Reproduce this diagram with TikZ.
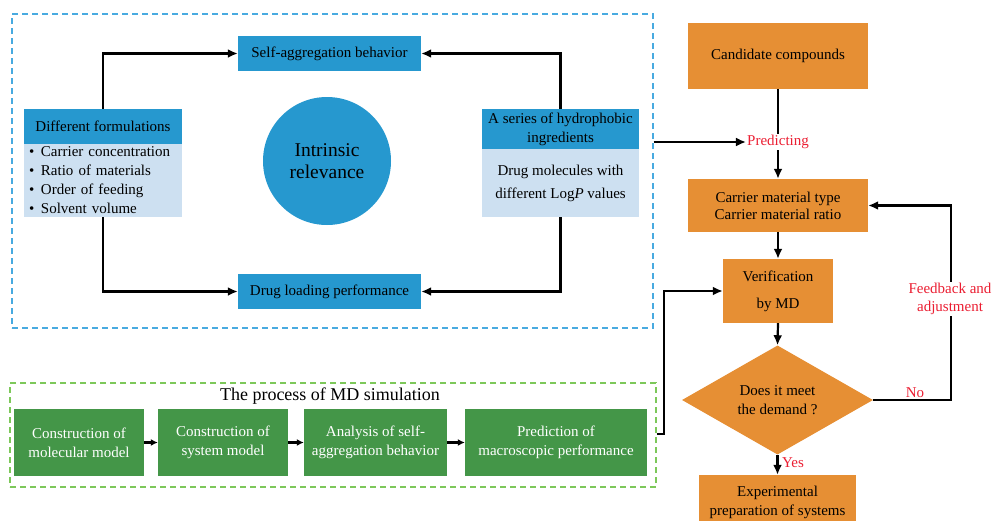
\documentclass[tikz,border=0pt]{standalone}
\usepackage{fontspec}
\setmainfont{Liberation Serif}
\usetikzlibrary{arrows.meta,shapes.geometric,calc}
\definecolor{dblue}{RGB}{38,152,207}
\definecolor{lblue}{RGB}{205,224,241}
\definecolor{orng}{RGB}{230,143,52}
\definecolor{grn}{RGB}{68,150,72}
\definecolor{dashblue}{RGB}{72,170,224}
\definecolor{dashgrn}{RGB}{125,200,90}
\definecolor{redt}{RGB}{235,30,50}
\newcommand{\fsz}{\fontsize{15}{18}\selectfont}
\begin{document}
\begin{tikzpicture}[x=1pt,y=-1pt,
  basebox/.style={draw=none, inner sep=0pt, align=center, font=\fsz},
  bluebox/.style={basebox, fill=dblue},
  lightbox/.style={basebox, fill=lblue},
  orangebox/.style={basebox, fill=orng},
  greenbox/.style={basebox, fill=grn, text=white, minimum height=67pt},
  redlabel/.style={inner sep=1pt, text=redt, font=\fsz},
  conn/.style={line width=2.2pt},
  arr/.style={conn, -{Latex[length=10pt,width=9pt]}},
  sarr/.style={line width=2.2pt, -{Latex[length=7pt,width=7pt]}},
  dashframe/.style={line width=1.2pt, dash pattern=on 6pt off 4pt}
]
\useasboundingbox (0,0) rectangle (993,520);

% blue dashed frame
\node[draw=dashblue, dashframe, minimum width=641pt, minimum height=314pt, inner sep=0pt] (bframe) at (332.5,171) {};

\node[bluebox, minimum width=183pt, minimum height=35pt] (selfagg) at (329.5,53.5) {Self-aggregation behavior};
\node[bluebox, minimum width=183pt, minimum height=35pt] (drugload) at (329.5,291.5) {Drug loading performance};

\node[bluebox, minimum width=158pt, minimum height=35pt] (dfh) at (103,126.5) {Different formulations};
\node[lightbox, minimum width=158pt, minimum height=73pt, text width=148pt, align=left, inner xsep=5pt, font=\fontsize{15}{19}\selectfont] (dfl) at (103,180.5)
  {\makebox[12pt][l]{\textbullet}Carrier concentration\\
   \makebox[12pt][l]{\textbullet}Ratio of materials\\
   \makebox[12pt][l]{\textbullet}Order of feeding\\
   \makebox[12pt][l]{\textbullet}Solvent volume};

\node[circle, fill=dblue, minimum size=128pt, inner sep=0pt, align=center, font=\fontsize{19.5}{22}\selectfont] (intr) at (327,161) {Intrinsic\\relevance};

\node[bluebox, minimum width=157pt, minimum height=40pt, font=\fontsize{15}{19}\selectfont] (hyh) at (560.5,129) {A series of hydrophobic\\ingredients};
\node[lightbox, minimum width=157pt, minimum height=68pt, font=\fontsize{15}{23}\selectfont] (hyl) at (560.5,183) {Drug molecules with\\different Log\textit{P} values};

\draw[arr] (dfh.north) |- (selfagg.west);
\draw[arr] (dfl.south) |- (drugload.west);
\draw[arr] (hyh.north) |- (selfagg.east);
\draw[arr] (hyl.south) |- (drugload.east);

% right column
\node[orangebox, minimum width=180pt, minimum height=66pt] (cand) at (778,56) {Candidate compounds};
\node[redlabel] (pred) at (778,142) {Predicting};
\node[orangebox, minimum width=180pt, minimum height=53pt, font=\fontsize{15}{17}\selectfont] (carrier) at (778,205.5) {Carrier material type\\Carrier material ratio};
\node[orangebox, minimum width=110pt, minimum height=64pt, font=\fontsize{15}{27}\selectfont] (verif) at (778,291) {Verification\\by MD};
\node[diamond, fill=orng, minimum width=191pt, minimum height=94pt, inner sep=0pt, align=center, font=\fontsize{15}{19}\selectfont] (demand) at (777.5,400) {Does it meet\\the demand ?};
\node[orangebox, minimum width=157pt, minimum height=55pt, font=\fontsize{15}{19}\selectfont] (exper) at (777.5,502.5) {Experimental\\preparation of systems};

\draw[conn] (cand.south) -- (pred.north);
\draw[arr] (pred.south) -- (carrier.north);
\draw[arr] (bframe.east |- pred.west) -- (pred.west);
\draw[arr] (carrier.south) -- (verif.north);
\draw[arr] (verif.south) -- (demand.north);
\draw[arr] (demand.south) -- (exper.north);
\node[redlabel] (yes) at (793,463) {Yes};

\coordinate (fbcorner) at (951,400);
\draw[arr] (demand.east) -- (fbcorner) |- (carrier.east);
\node[redlabel] (no) at (915,393) {No};
\node[redlabel, fill=white, align=center, font=\fontsize{15}{18}\selectfont] (fb) at (950,299) {Feedback and\\adjustment};

% green MD process
\node[draw=dashgrn, dashframe, minimum width=646pt, minimum height=104pt, inner sep=0pt] (gframe) at (333,435) {};
\node[inner sep=0pt, font=\fontsize{18}{20}\selectfont] (mdtitle) at (330,396) {The process of MD simulation};
\node[greenbox, minimum width=130pt, font=\fontsize{15}{19}\selectfont] (g1) at (79,442.5) {Construction of\\molecular model};
\node[greenbox, minimum width=130pt, font=\fontsize{15}{19}\selectfont] (g2) at (223,442.5) {Construction of\\system model};
\node[greenbox, minimum width=143pt, font=\fontsize{15}{19}\selectfont] (g3) at (375.5,442.5) {Analysis of self-\\aggregation behavior};
\node[greenbox, minimum width=182pt, font=\fontsize{15}{19}\selectfont] (g4) at (556,442.5) {Prediction of\\macroscopic performance};
\draw[sarr] (g1.east) -- (g2.west);
\draw[sarr] (g2.east) -- (g3.west);
\draw[sarr] (g3.east) -- (g4.west);

\coordinate (mdturn) at (664,434);
\draw[arr] (gframe.east |- mdturn) -- (mdturn) |- (verif.west);
\end{tikzpicture}
\end{document}
